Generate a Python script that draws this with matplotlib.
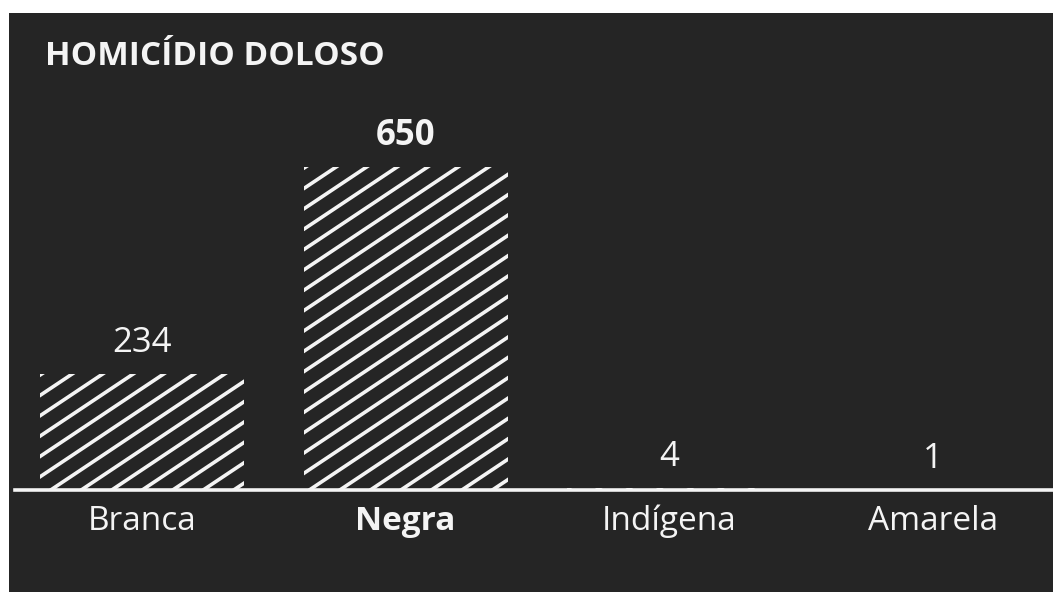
import numpy as np
import matplotlib.pyplot as plt
from matplotlib.lines import Line2D
from matplotlib.patches import Rectangle
from matplotlib.transforms import IdentityTransform

plt.rcParams['font.family'] = ['Open Sans', 'DejaVu Sans']

# data
title = "HOMICÍDIO DOLOSO"
categories = ["Branca", "Negra", "Indígena", "Amarela"]
values = [234, 650, 4, 1]
highlight = "Negra"

BG = '#252525'
FG = '#f4f4f4'

W, H = 1053, 592
fig = plt.figure(figsize=(W / 100, H / 100), dpi=100)
fig.patch.set_facecolor('white')
# dark panel with thin white margin top and left
fig.add_artist(Rectangle((9 / W, 0), 1 - 9 / W, 1 - 13 / H,
                         transform=fig.transFigure, facecolor=BG,
                         edgecolor='none', zorder=0))

ax = fig.add_axes([15 / W, (H - 490) / H, (W - 15) / W, (490 - 13) / H])
ax.set_facecolor('none')
ax.axis('off')

x = np.arange(len(categories))
bars = ax.bar(x, values, width=0.774, facecolor='none', edgecolor='none')
ax.set_xlim(-0.482, 3.457)
ax.set_ylim(0, 960)

ax.axhline(0, color=FG, lw=2.6, clip_on=False, zorder=5)

# diagonal hatching drawn in pixels, clipped to each bar
slope = 0.667
step = 30.5
for b in bars:
    (x0, y0), (x1, y1) = ax.transData.transform(
        [(b.get_x(), 0), (b.get_x() + b.get_width(), b.get_height())])
    h = y1 - y0
    for xs in np.arange(x0 + 2 - 3 * step, x1 + h / slope + step, step):
        # line through (xs, y1) on the top edge, going down to the left
        xa, ya = xs - (h + 10) / slope, y0 - 10
        xb, yb = xs + 10 / slope, y1 + 10
        ln = Line2D([xa, xb], [ya, yb], transform=IdentityTransform(),
                    color=FG, lw=2.6, solid_capstyle='round', zorder=3)
        fig.add_artist(ln)
        ln.set_clip_path(b)

for xi, v, cat in zip(x, values, categories):
    bold = 'bold' if cat == highlight else 'normal'
    ax.annotate(f"{v}", (xi, v), xytext=(0, 22), textcoords='offset pixels',
                ha='center', va='baseline', fontsize=25, color=FG,
                fontweight=bold)
    ax.annotate(cat, (xi, 0), xytext=(0, -40), textcoords='offset pixels',
                ha='center', va='baseline', fontsize=24, color=FG,
                fontweight=bold, annotation_clip=False)

fig.text(45 / W, 1 - 65 / H, title, ha='left', va='baseline',
         fontsize=24, fontweight='bold', color=FG)

fig.savefig('out.png', dpi=100, facecolor=fig.get_facecolor())
